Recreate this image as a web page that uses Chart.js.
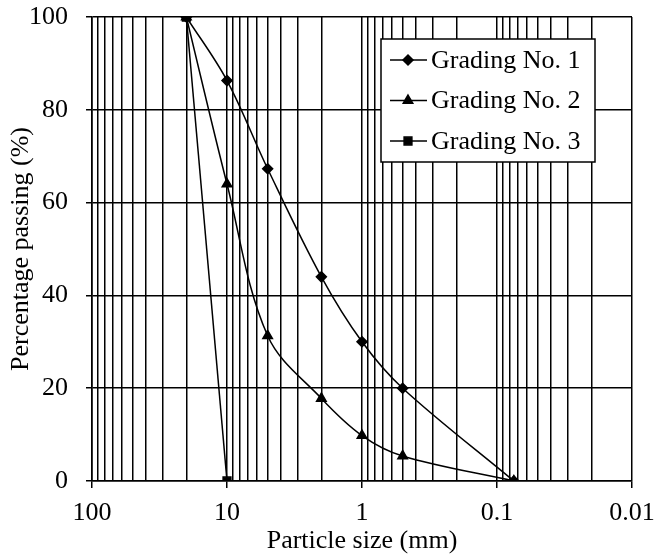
<!DOCTYPE html>
<html>
<head>
<meta charset="utf-8">
<script src="https://cdn.jsdelivr.net/npm/chart.js@4/dist/chart.umd.min.js"></script>
<style>
  html, body { margin: 0; padding: 0; background: #fff; }
  #wrap { width: 654px; height: 558px; }
</style>
</head>
<body>
<div id="wrap"><canvas id="grading"></canvas></div>
<script>
// sieve sizes (mm) and percentage passing
const sizes1 = [20, 10, 5, 2, 1, 0.5, 0.075];
const passing1 = [100, 86.3, 67.3, 44, 30, 20, 0];
const sizes2 = [20, 10, 5, 2, 1, 0.5, 0.075];
const passing2 = [100, 64, 31.3, 17.8, 9.8, 5.4, 0];
const sizes3 = [20, 10];
const passing3 = [100, 0];

const seriesNames = ['Grading No. 1', 'Grading No. 2', 'Grading No. 3'];
const decadeTicks = [100, 10, 1, 0.1, 0.01];
const decadeLabels = ['100', '10', '1', '0.1', '0.01'];
const yTicks = [0, 20, 40, 60, 80, 100];

// every 1..9 step inside each decade, for the log grid
const xGridValues = [];
[0.01, 0.1, 1, 10].forEach(d => {
  for (let k = 1; k < 10; k++) xGridValues.push(+(d * k).toPrecision(3));
});
xGridValues.push(100);

const font = { family: 'Liberation Serif', size: 26 };
const titleFont = { family: 'Liberation Serif', size: 26, lineHeight: 1 };

const pts = (xs, ys) => xs.map((x, i) => ({ x: x, y: ys[i] }));

const isDecade = v => decadeTicks.some(d => Math.abs(d - v) / d < 1e-6);

// legend box drawn inside the plot area, like the original
const boxLegend = {
  id: 'boxLegend',
  afterDraw(chart) {
    const ctx = chart.ctx;
    const area = chart.chartArea;
    const w = 214, h = 123;
    const left = area.right - 37 - w;
    const top = area.top + 22;
    ctx.save();
    ctx.fillStyle = '#fff';
    ctx.fillRect(left, top, w, h);
    ctx.strokeStyle = '#000';
    ctx.lineWidth = 1.5;
    ctx.strokeRect(left, top, w, h);
    ctx.font = '26px "Liberation Serif"';
    ctx.textBaseline = 'middle';
    ctx.fillStyle = '#000';
    chart.data.datasets.forEach((ds, i) => {
      const y = top + 21 + i * 40.5;
      ctx.beginPath();
      ctx.lineWidth = 1.5;
      ctx.moveTo(left + 9, y);
      ctx.lineTo(left + 46, y);
      ctx.stroke();
      Chart.helpers.drawPoint(ctx, {
        pointStyle: ds.pointStyle,
        radius: ds.pointRadius,
        rotation: 0,
        borderWidth: 1
      }, left + 27, y);
      ctx.fillText(ds.label, left + 50, y + 1);
    });
    ctx.restore();
  }
};

const common = {
  borderColor: '#000',
  backgroundColor: '#000',
  pointBorderColor: '#000',
  pointBackgroundColor: '#000',
  borderWidth: 1.5,
  tension: 0.35
};

new Chart(document.getElementById('grading'), {
  type: 'line',
  data: {
    datasets: [
      Object.assign({ label: seriesNames[0], data: pts(sizes1, passing1), pointStyle: 'rectRot', pointRadius: 5 }, common),
      Object.assign({ label: seriesNames[1], data: pts(sizes2, passing2), pointStyle: 'triangle', pointRadius: 5.5 }, common),
      Object.assign({ label: seriesNames[2], data: pts(sizes3, passing3), pointStyle: 'rect', pointRadius: 5.5 }, common, { tension: 0 })
    ]
  },
  plugins: [boxLegend],
  options: {
    responsive: true,
    maintainAspectRatio: false,
    animation: false,
    layout: { padding: { top: 17, right: 22, left: 8, bottom: 4 } },
    plugins: {
      legend: { display: false },
      tooltip: { enabled: false }
    },
    scales: {
      x: {
        type: 'logarithmic',
        reverse: true,
        min: 0.01,
        max: 100,
        afterBuildTicks: axis => { axis.ticks = xGridValues.map(v => ({ value: v })); },
        // fixed axis band; the layout padding leaves room for the end labels
        afterFit: axis => { axis.height = 73; axis.paddingLeft = 0; axis.paddingRight = 0; },
        ticks: {
          autoSkip: false,
          maxRotation: 0,
          color: '#000',
          font: font,
          padding: 10,
          callback: v => {
            const i = decadeTicks.findIndex(d => Math.abs(d - v) / d < 1e-6);
            return i >= 0 ? decadeLabels[i] : '';
          }
        },
        grid: {
          color: '#000',
          lineWidth: 1.5,
          tickLength: 7,
          tickColor: c => (c.tick && isDecade(c.tick.value)) ? '#000' : 'rgba(0,0,0,0)'
        },
        border: { color: '#000', width: 1.6 },
        title: { display: true, text: 'Particle size (mm)', color: '#000', font: titleFont, padding: 0 }
      },
      y: {
        min: 0,
        max: 100,
        afterBuildTicks: axis => { axis.ticks = yTicks.map(v => ({ value: v })); },
        afterFit: axis => { axis.width = 84; axis.paddingTop = 0; axis.paddingBottom = 0; },
        ticks: { color: '#000', font: font, padding: 18 },
        grid: { color: '#000', lineWidth: 1.5, tickLength: 6 },
        border: { color: '#000', width: 1.6 },
        title: { display: true, text: 'Percentage passing (%)', color: '#000', font: titleFont, padding: 0 }
      }
    }
  }
});
</script>
</body>
</html>
